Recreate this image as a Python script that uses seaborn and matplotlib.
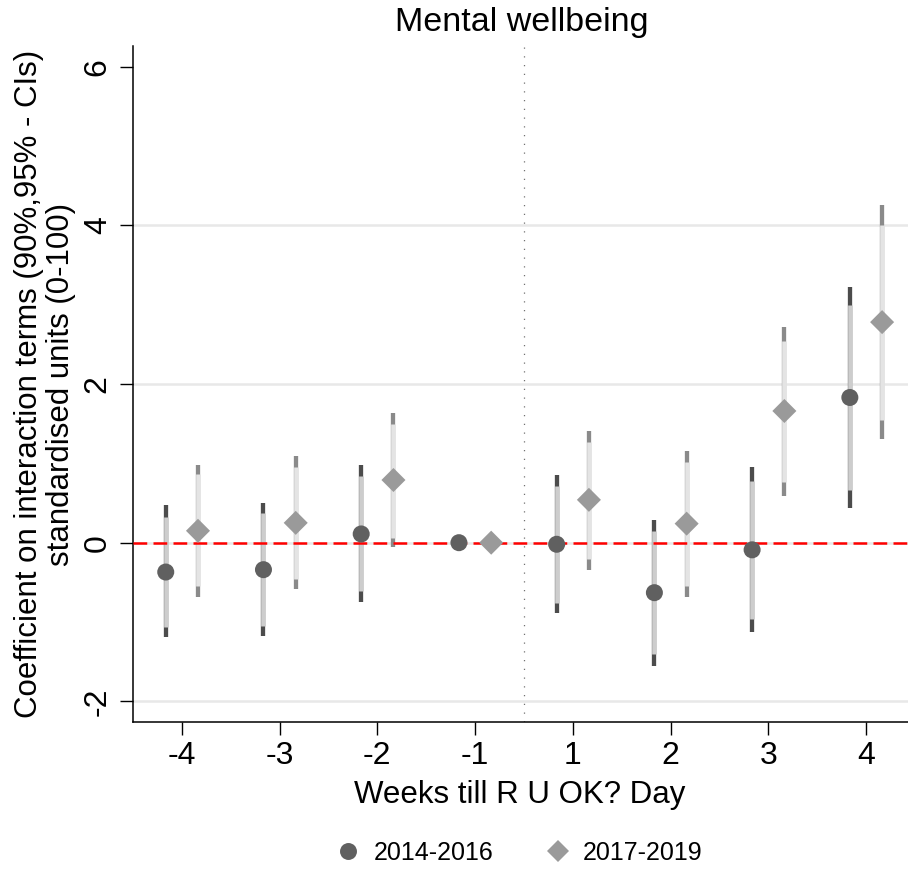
import matplotlib
matplotlib.use("Agg")
import matplotlib.pyplot as plt
from matplotlib.lines import Line2D
import numpy as np
import pandas as pd
import seaborn as sns

# ---- data ----
weeks = ["-4", "-3", "-2", "-1", "1", "2", "3", "4"]
series = ["2014-2016", "2017-2019"]

coef_a = [-0.37, -0.34, 0.11, 0.0, -0.02, -0.63, -0.09, 1.83]
lo95_a = [-1.19, -1.17, -0.75, 0.0, -0.89, -1.55, -1.13, 0.44]
hi95_a = [0.47, 0.50, 0.98, 0.0, 0.85, 0.28, 0.95, 3.22]
lo90_a = [-1.06, -1.05, -0.61, 0.0, -0.76, -1.40, -0.96, 0.66]
hi90_a = [0.33, 0.37, 0.84, 0.0, 0.71, 0.15, 0.78, 3.00]

coef_b = [0.15, 0.25, 0.79, 0.0, 0.54, 0.24, 1.66, 2.78]
lo95_b = [-0.69, -0.58, -0.06, 0.0, -0.34, -0.69, 0.59, 1.31]
hi95_b = [0.98, 1.09, 1.64, 0.0, 1.41, 1.16, 2.72, 4.25]
lo90_b = [-0.55, -0.46, 0.06, 0.0, -0.21, -0.54, 0.76, 1.54]
hi90_b = [0.86, 0.96, 1.50, 0.0, 1.27, 1.02, 2.54, 4.01]

yticks = [-2, 0, 2, 4, 6]

rows = []
for i, w in enumerate(weeks):
    rows.append(dict(week=w, idx=i, series=series[0], coef=coef_a[i],
                     lo95=lo95_a[i], hi95=hi95_a[i], lo90=lo90_a[i], hi90=hi90_a[i]))
    rows.append(dict(week=w, idx=i, series=series[1], coef=coef_b[i],
                     lo95=lo95_b[i], hi95=hi95_b[i], lo90=lo90_b[i], hi90=hi90_b[i]))
df = pd.DataFrame(rows)
offset = {series[0]: -0.165, series[1]: 0.165}
df["x"] = df["idx"] + df["series"].map(offset)

# ---- style ----
sns.set_style("ticks")
plt.rcParams["font.family"] = ["Liberation Sans", "DejaVu Sans"]
plt.rcParams["text.color"] = "black"
plt.rcParams["axes.labelcolor"] = "black"
plt.rcParams["xtick.color"] = "black"
plt.rcParams["ytick.color"] = "black"

marker_col = {series[0]: "#606060", series[1]: "#9a9a9a"}
cap_col = {series[0]: "#4c4c4c", series[1]: "#8a8a8a"}
bar_col = {series[0]: "#cdcdcd", series[1]: "#e4e4e4"}
markers = {series[0]: "o", series[1]: "D"}

fig = plt.figure(figsize=(9.08, 8.69), dpi=100)
ax = fig.add_axes([133 / 908, 1 - 722 / 869, 1 - 133 / 908, (722 - 46) / 869])

# grid lines
for yv in [-2, 0, 2, 4]:
    ax.axhline(yv, color="#e8e8e8", lw=1.8, zorder=0)

# CIs
for s in series:
    d = df[df["series"] == s]
    d = d[d["hi95"] != d["lo95"]]
    ax.vlines(d["x"], d["lo95"], d["hi95"], color=cap_col[s], lw=3.1, zorder=2)
    ax.vlines(d["x"], d["lo90"], d["hi90"], color=bar_col[s], lw=3.4, zorder=3)

# reference lines
ax.axhline(0, color="red", lw=1.8, dashes=(5.5, 2.5), zorder=4)
ax.axvline(3.5, color="#707070", lw=0.9, linestyle=(0, (1, 6)), zorder=1)

# markers
sns.scatterplot(data=df, x="x", y="coef", hue="series", style="series",
                palette=marker_col, markers=markers, s=150, linewidth=0,
                edgecolor="none", legend=False, ax=ax, zorder=5)

ax.set_xlim(-0.5, 7.43)
ax.set_ylim(-2.26, 6.26)
ax.set_xticks(range(len(weeks)))
ax.set_xticklabels(weeks)
ax.set_yticks(yticks)
ax.set_yticklabels([str(v) for v in yticks], rotation=90, va="center")
ax.tick_params(axis="both", labelsize=23, length=9.5, width=1.0, color="black",
               labelcolor="black")
ax.tick_params(axis="y", pad=5)
ax.tick_params(axis="x", pad=4)
for side in ["top", "right"]:
    ax.spines[side].set_visible(False)
for side in ["left", "bottom"]:
    ax.spines[side].set_linewidth(1.1)
    ax.spines[side].set_color("black")

ax.set_xlabel("")
ax.set_ylabel("")
fig.text(520 / 908, 1 - 795 / 869, "Weeks till R U OK? Day", ha="center", va="center",
         fontsize=22.5, color="black")
fig.text(522 / 908, 1 - 22 / 869, "Mental wellbeing", ha="center", va="center",
         fontsize=24.5, color="black")
fig.text(45 / 908, 1 - 384 / 869,
         "Coefficient on interaction terms (90%,95% - CIs)\nstandardised units (0-100)",
         rotation=90, ha="center", va="center", multialignment="center",
         fontsize=22.5, linespacing=1.08, color="black")

handles = [Line2D([], [], marker="o", linestyle="none", color=marker_col[series[0]],
                  markersize=12.2, markeredgewidth=0),
           Line2D([], [], marker="D", linestyle="none", color=marker_col[series[1]],
                  markersize=11.7, markeredgewidth=0)]
fig.legend(handles, series, loc="center", bbox_to_anchor=(518 / 908, 1 - 853 / 869),
           ncol=2, frameon=False, fontsize=18, handletextpad=0.4, columnspacing=2.0,
           handlelength=1.2, labelcolor="black")

fig.savefig("out.png", dpi=100)
